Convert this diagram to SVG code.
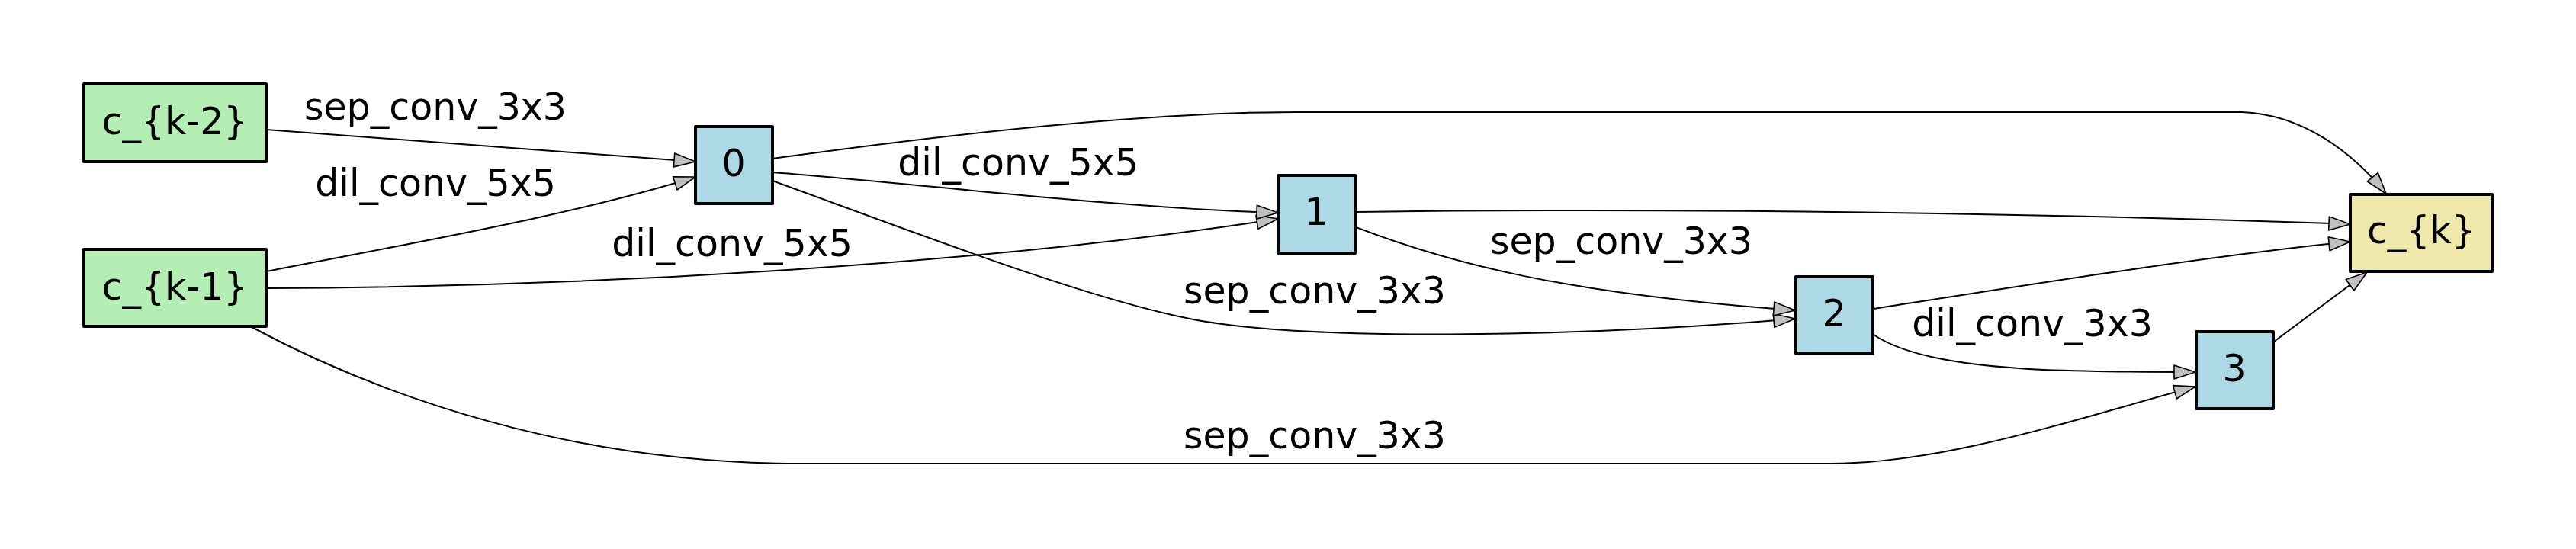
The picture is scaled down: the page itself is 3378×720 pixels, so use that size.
<svg xmlns="http://www.w3.org/2000/svg" width="3378" height="720" viewBox="0 0 3378 720">
<style>
.node rect{stroke:#000;stroke-width:4;stroke-linejoin:round}
.in rect{fill:#b4eeb4}
.mid rect{fill:#add8e6}
.out rect{fill:#eee8aa}
text{font-family:"DejaVu Sans","Liberation Sans",sans-serif;font-size:49px;fill:#000;text-anchor:middle}
#edges path{fill:none;stroke:#000;stroke-width:2;marker-end:url(#arr)}
</style>
<defs>
<marker id="arr" markerUnits="userSpaceOnUse" viewBox="-2 -11 32 22" markerWidth="32" markerHeight="22" refX="28" refY="0" orient="auto">
<polygon points="0,-9 28,0 0,9" fill="#c0c0c0" stroke="#000" stroke-width="1.6" stroke-linejoin="round"/>
</marker>
</defs>
<rect width="3378" height="720" fill="#fff"/>
<g id="edges">
<path d="M349,170 L912,212"/>
<path d="M349,356 C560,315 760,280 912,232"/>
<path d="M349,378 C800,376 1300,345 1676,287"/>
<path d="M1013,226 C1200,240 1450,272 1676,279"/>
<path d="M1013,237 C1200,305 1420,390 1560,418 C1720,450 2100,440 2354,418"/>
<path d="M1013,208 C1250,175 1500,147 1700,147 L2940,147 C3020,150 3085,200 3129,254"/>
<path d="M1777,278 C2200,272 2700,280 3082,294"/>
<path d="M1778,298 C1900,345 2050,385 2354,407"/>
<path d="M2457,405 C2650,375 2900,335 3082,317"/>
<path d="M2457,439 C2500,468 2580,480 2680,485 C2760,488 2830,488 2879,488"/>
<path d="M330,429 C500,520 750,608 1050,608 L2400,608 C2550,608 2720,550 2879,507"/>
<path d="M2982,448 L3104,357"/>
</g>
<g id="edge-labels">
<text x="571" y="157">sep_conv_3x3</text>
<text x="571" y="257">dil_conv_5x5</text>
<text x="960" y="336">dil_conv_5x5</text>
<text x="1335" y="230">dil_conv_5x5</text>
<text x="1724" y="398">sep_conv_3x3</text>
<text x="2126" y="333">sep_conv_3x3</text>
<text x="2665" y="441">dil_conv_3x3</text>
<text x="1724" y="588">sep_conv_3x3</text>
</g>
<g id="node-ck2" class="node in"><rect x="110" y="110" width="239" height="102"/><text x="229" y="176">c_{k-2}</text></g>
<g id="node-ck1" class="node in"><rect x="110" y="327" width="239" height="101"/><text x="229" y="393">c_{k-1}</text></g>
<g id="node-0" class="node mid"><rect x="912" y="166" width="101" height="101"/><text x="962" y="231">0</text></g>
<g id="node-1" class="node mid"><rect x="1676" y="230" width="101" height="102"/><text x="1726" y="295">1</text></g>
<g id="node-2" class="node mid"><rect x="2355" y="363" width="101" height="101"/><text x="2405" y="428">2</text></g>
<g id="node-3" class="node mid"><rect x="2880" y="435" width="101" height="101"/><text x="2930" y="500">3</text></g>
<g id="node-ck" class="node out"><rect x="3082" y="255" width="186" height="101"/><text x="3175" y="319">c_{k}</text></g>
</svg>
